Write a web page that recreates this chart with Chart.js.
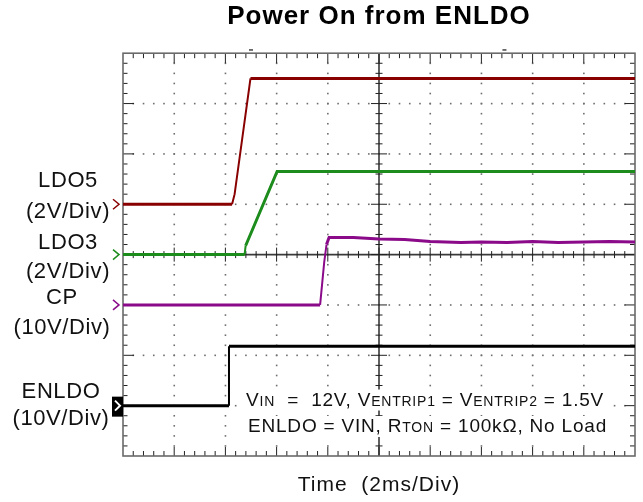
<!DOCTYPE html>
<html>
<head>
<meta charset="utf-8">
<script src="https://cdn.jsdelivr.net/npm/chart.js@4.4.0/dist/chart.umd.min.js"></script>
<style>
  html, body { margin: 0; padding: 0; background: #fff; }
  canvas { display: block; }
</style>
</head>
<body>
<canvas id="scope" width="643" height="502"></canvas>
<script>
// scope traces, time in ms (2ms/div), levels in volts
var ldo5Time = [0, 4.26, 4.36, 4.98, 20];
var ldo5Volt = [0, 0, 0.4, 5.0, 5.0];
var ldo3Time = [0, 4.75, 4.79, 6.02, 20];
var ldo3Volt = [0, 0, 0.35, 3.3, 3.3];
var cpTime = [0, 7.70, 7.86, 7.95, 8.05, 9.0, 10.0, 11.0, 12.0, 13.2, 14.0, 15.0, 16.0, 17.0, 18.0, 19.0, 20];
var cpVolt = [0, 0, 8.5, 12.0, 13.4, 13.4, 13.1, 13.0, 12.6, 12.4, 12.5, 12.4, 12.6, 12.4, 12.5, 12.6, 12.5];
var enldoTime = [0, 4.14, 4.14, 20];
var enldoVolt = [0, 0, 11.8, 11.8];

// channel setup
var channelNames = ['LDO5', 'LDO3', 'CP', 'ENLDO'];
var channelScales = ['(2V/Div)', '(2V/Div)', '(10V/Div)', '(10V/Div)'];
var voltsPerDiv = [2, 2, 10, 10];
var groundDiv = [1, 0, -1, -3];

var chartTitle = 'Power On from ENLDO';
var xTitle = 'Time  (2ms/Div)';
var noteLine1 = [['V', 0], ['IN', 1], ['  =  12V, V', 0], ['ENTRIP1', 1], [' = V', 0], ['ENTRIP2', 1], [' = 1.5V', 0]];
var noteLine2 = [['ENLDO = VIN, R', 0], ['TON', 1], [' = 100k\u03A9, No Load', 0]];

var colors = ['#880000', '#1c8c1c', '#8a0a8a', '#000000'];
var FONT = "'Liberation Sans', Arial, sans-serif";

function trace(times, volts, ch){
    return times.map(function(t, i){
        return {x: t, y: volts[i] / voltsPerDiv[ch] + groundDiv[ch]};
    });
}

var series = [[ldo5Time, ldo5Volt], [ldo3Time, ldo3Volt], [cpTime, cpVolt], [enldoTime, enldoVolt]];
var datasets = series.map(function(s, ch){
    return {
        label: channelNames[ch],
        data: trace(s[0], s[1], ch),
        borderColor: colors[ch],
        borderWidth: 3,
        pointRadius: 0,
        tension: 0,
        fill: false,
        segment: {
            borderWidth: function(c){
                var dx = Math.abs(c.p1.x - c.p0.x), dy = Math.abs(c.p1.y - c.p0.y);
                return dy > 3 * dx ? 2 : 3;
            }
        }
    };
});

// oscilloscope graticule: border, centre cross, dotted divisions, ticks
var graticule = {
    id: 'graticule',
    beforeDatasetsDraw: function(chart){
        var ctx = chart.ctx, xs = chart.scales.x, ys = chart.scales.y;
        var a = chart.chartArea;
        var X = function(v){ return xs.getPixelForValue(v); };
        var Y = function(v){ return ys.getPixelForValue(v); };
        ctx.save();
        ctx.letterSpacing = '0px';
        // dots along the division lines
        ctx.fillStyle = '#6e6e6e';
        for(var i = 1; i < 10; i++){
            if(i === 5) continue;
            for(var k = 1; k < 40; k++) ctx.fillRect(X(i * 2) - 0.75, Y(-4 + k * 0.2) - 0.75, 1.6, 1.6);
        }
        for(var j = -3; j <= 3; j++){
            if(j === 0) continue;
            for(var k2 = 1; k2 < 50; k2++) ctx.fillRect(X(k2 * 0.4) - 0.75, Y(j) - 0.75, 1.6, 1.6);
        }
        // centre cross
        ctx.strokeStyle = '#3a3a3a';
        ctx.lineWidth = 1.6;
        ctx.beginPath();
        ctx.moveTo(X(10), a.top); ctx.lineTo(X(10), a.bottom);
        ctx.moveTo(a.left, Y(0)); ctx.lineTo(a.right, Y(0));
        ctx.stroke();
        ctx.lineWidth = 1;
        ctx.strokeStyle = '#222';
        ctx.beginPath();
        for(var m = 1; m < 50; m++){
            var px = X(m * 0.4), big = m % 5 === 0, h = big ? 7 : 3.5;
            ctx.moveTo(px, Y(0) - h); ctx.lineTo(px, Y(0) + h);
            ctx.moveTo(px, a.top); ctx.lineTo(px, a.top + (big ? 10 : 5));
            ctx.moveTo(px, a.bottom); ctx.lineTo(px, a.bottom - (big ? 9 : 5));
        }
        for(var n = 1; n < 40; n++){
            var py = Y(-4 + n * 0.2), bigY = n % 5 === 0, w = bigY ? 8 : 3.5;
            ctx.moveTo(X(10) - w, py); ctx.lineTo(X(10) + w, py);
            ctx.moveTo(a.left, py); ctx.lineTo(a.left + (bigY ? 11 : 4.5), py);
            ctx.moveTo(a.right, py); ctx.lineTo(a.right - (bigY ? 10 : 5), py);
        }
        ctx.stroke();
        // frame
        ctx.strokeStyle = '#6a6a6a';
        ctx.lineWidth = 1.6;
        ctx.strokeRect(a.left, a.top, a.right - a.left, a.bottom - a.top);
        // trigger / cursor marks above the screen
        ctx.fillStyle = '#444';
        ctx.fillRect(X(5.0) - 2, a.top - 4, 4, 1.5);
        ctx.fillRect(X(14.9) - 2, a.top - 4, 4, 1.5);
        ctx.restore();
    }
};

function drawRich(ctx, parts, x0, x1, base){
    var mainFont = '19px ' + FONT, subFont = '14px ' + FONT;
    ctx.letterSpacing = '0px';
    var widths = [], total = 0, count = 0;
    parts.forEach(function(p){
        ctx.font = p[1] ? subFont : mainFont;
        var wd = ctx.measureText(p[0]).width;
        widths.push(wd); total += wd; count += p[0].length;
    });
    var sp = (x1 - x0 - total) / count;
    ctx.fillStyle = '#fff';
    ctx.fillRect(x0 - 4, base - 16, x1 - x0 + 8, 21);
    ctx.fillStyle = '#111';
    ctx.textAlign = 'left';
    ctx.textBaseline = 'alphabetic';
    ctx.letterSpacing = sp + 'px';
    var x = x0;
    parts.forEach(function(p, i){
        ctx.font = p[1] ? subFont : mainFont;
        ctx.fillText(p[0], x, base);
        x += widths[i] + sp * p[0].length;
    });
}

var overlay = {
    id: 'overlay',
    beforeDraw: function(chart){
        chart.ctx.letterSpacing = '1px';
    },
    afterDraw: function(chart){
        var ctx = chart.ctx, ys = chart.scales.y, a = chart.chartArea;
        ctx.save();
        // ground markers
        for(var ch = 0; ch < 4; ch++){
            var gy = ys.getPixelForValue(groundDiv[ch]);
            ctx.lineWidth = 1.5;
            if(ch === 3){
                ctx.fillStyle = '#000';
                ctx.fillRect(a.left - 11, gy - 9, 11, 20);
                ctx.strokeStyle = '#fff';
                ctx.lineWidth = 2;
                ctx.beginPath();
                ctx.moveTo(a.left - 8, gy - 5); ctx.lineTo(a.left - 3, gy); ctx.lineTo(a.left - 8, gy + 5);
                ctx.stroke();
            } else {
                ctx.strokeStyle = colors[ch];
                ctx.beginPath();
                ctx.moveTo(a.left - 10, gy - 5); ctx.lineTo(a.left - 4, gy); ctx.lineTo(a.left - 10, gy + 5);
                ctx.stroke();
            }
        }
        // channel labels
        var labelPos = [[68, 181, 212], [68, 243, 272], [62, 298, 328], [61, 392, 419]];
        ctx.fillStyle = '#111';
        ctx.font = '22px ' + FONT;
        ctx.textAlign = 'center';
        ctx.textBaseline = 'middle';
        ctx.letterSpacing = '0.6px';
        labelPos.forEach(function(p, i){
            ctx.fillText(channelNames[i], p[0], p[1]);
            ctx.fillText(channelScales[i], p[0], p[2]);
        });
        // test conditions
        drawRich(ctx, noteLine1, 246, 604, 405.5);
        drawRich(ctx, noteLine2, 248, 607, 432);
        ctx.restore();
    }
};

new Chart(document.getElementById('scope'), {
    type: 'line',
    data: {datasets: datasets},
    options: {
        responsive: false,
        animation: false,
        events: [],
        layout: {padding: {left: 123, right: 8, top: 0, bottom: 0}},
        plugins: {
            legend: {display: false},
            tooltip: {enabled: false},
            title: {
                display: true,
                text: chartTitle,
                color: '#000',
                font: {family: FONT, size: 26, weight: 'bold', lineHeight: 1.2},
                padding: {top: 1, bottom: 21}
            }
        },
        scales: {
            x: {
                type: 'linear',
                min: 0, max: 20,
                grid: {display: false, drawTicks: false},
                border: {display: false},
                ticks: {display: false},
                title: {
                    display: true,
                    text: xTitle,
                    color: '#111',
                    font: {family: FONT, size: 21, lineHeight: 1.2},
                    padding: {top: 16.7, bottom: 4.1}
                }
            },
            y: {
                type: 'linear',
                min: -4, max: 4,
                display: false
            }
        }
    },
    plugins: [graticule, overlay]
});
</script>
</body>
</html>
